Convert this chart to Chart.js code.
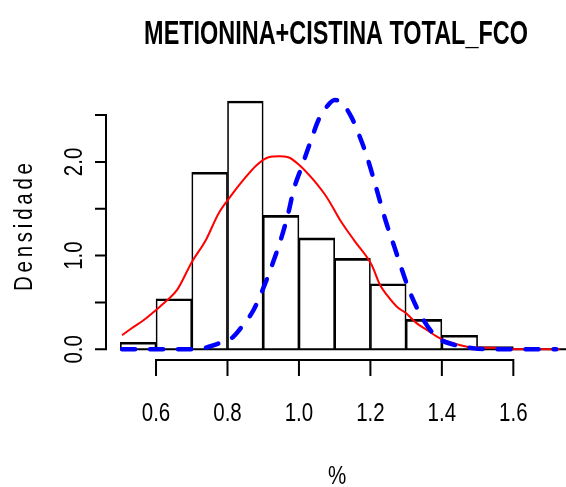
<!DOCTYPE html>
<html>
<head>
<meta charset="utf-8">
<script src="https://cdn.jsdelivr.net/npm/chart.js@4.4.1/dist/chart.umd.min.js"></script>
<style>
  html, body { margin: 0; padding: 0; background: #fff; }
  canvas { display: block; }
</style>
</head>
<body>
<canvas id="histFco" width="566" height="487"></canvas>
<script>
// histogram bins (midpoints) and densities, bin width 0.1
const binMids = [0.55, 0.65, 0.75, 0.85, 0.95, 1.05, 1.15, 1.25, 1.35, 1.45, 1.55];
const binDensity = [0.075, 0.54, 1.89, 2.65, 1.43, 1.19, 0.97, 0.70, 0.32, 0.15, 0.03];

// kernel density estimate (red)
const kdeX = [0.505, 0.53, 0.565, 0.60, 0.63, 0.66, 0.70, 0.74, 0.775, 0.81, 0.845, 0.88, 0.915, 0.945, 0.97,
  1.00, 1.04, 1.08, 1.115, 1.155, 1.2036, 1.227, 1.246, 1.274, 1.30, 1.33, 1.358, 1.395, 1.432, 1.47, 1.507,
  1.553, 1.58, 1.65, 1.73];
const kdeY = [0.15, 0.22, 0.31, 0.42, 0.52, 0.64, 0.93, 1.17, 1.45, 1.64, 1.81, 1.96, 2.05, 2.06, 2.05,
  1.97, 1.81, 1.61, 1.38, 1.16, 0.90, 0.686, 0.58, 0.455, 0.384, 0.277, 0.206, 0.117, 0.064, 0.028, 0.017,
  0.017, 0.0, 0.0, 0.0];

// reference curve (blue dashed)
const refX = [0.505, 0.70, 0.73, 0.75, 0.78, 0.815, 0.84, 0.873, 0.90, 0.92, 0.95, 0.97, 0.985, 1.008, 1.031,
  1.055, 1.078, 1.10, 1.12, 1.148, 1.167, 1.19, 1.218, 1.242, 1.27, 1.298, 1.316, 1.349, 1.386, 1.433, 1.49,
  1.55, 1.72];
const refY = [0, 0, 0.01, 0.03, 0.07, 0.13, 0.24, 0.42, 0.65, 0.85, 1.18, 1.45, 1.70, 1.95, 2.20,
  2.45, 2.59, 2.66, 2.63, 2.47, 2.30, 2.06, 1.70, 1.38, 1.06, 0.74, 0.56, 0.31, 0.13, 0.05, 0.01,
  0, 0];

const xTicks = [0.6, 0.8, 1.0, 1.2, 1.4, 1.6];
const yTicks = [0, 0.5, 1.0, 1.5, 2.0, 2.5];
const yTickLabels = ["0.0", "", "1.0", "", "2.0", ""];

const titleText = "METIONINA+CISTINA TOTAL_FCO";
const xTitle = "%";
const yTitle = "Densidade";

const FONT = '"Liberation Sans", Arial, sans-serif';

// text squeezed horizontally (along its own baseline), optional rotation
function narrowText(ctx, str, x, y, font, opts = {}) {
  const squeeze = opts.squeeze || 0.82;
  ctx.save();
  ctx.font = font;
  ctx.textAlign = "center";
  ctx.textBaseline = "alphabetic";
  ctx.translate(x, y);
  if (opts.rot) ctx.rotate(opts.rot);
  ctx.scale(squeeze, 1);
  if (opts.span) {
    // spread letters so the word covers `span` px
    ctx.letterSpacing = "0px";
    const w = ctx.measureText(str).width;
    const gap = (opts.span / squeeze - w) / (str.length - 1);
    ctx.letterSpacing = gap + "px";
    ctx.fillText(str, gap / 2, 0);
  } else {
    ctx.fillText(str, 0, 0);
  }
  ctx.restore();
}

// R-style axes, labels and title
const rAxes = {
  id: "rAxes",
  beforeDatasetsDraw(chart) {
    const { ctx, scales: { x, y }, chartArea } = chart;
    ctx.save();
    ctx.strokeStyle = "#000";
    ctx.lineWidth = 2;
    ctx.beginPath();
    ctx.moveTo(x.getPixelForValue(0.5), y.getPixelForValue(0));
    ctx.lineTo(chartArea.right, y.getPixelForValue(0));
    ctx.stroke();
    ctx.restore();
  },
  afterDraw(chart) {
    const { ctx, scales: { x, y }, chartArea } = chart;
    ctx.save();
    ctx.strokeStyle = "#000";
    ctx.fillStyle = "#000";
    ctx.lineWidth = 2;
    ctx.lineCap = "square";

    // x axis
    const ax = chartArea.bottom;
    ctx.beginPath();
    ctx.moveTo(x.getPixelForValue(xTicks[0]), ax);
    ctx.lineTo(x.getPixelForValue(xTicks[xTicks.length - 1]), ax);
    xTicks.forEach(t => {
      const px = x.getPixelForValue(t);
      ctx.moveTo(px, ax);
      ctx.lineTo(px, ax + 15);
    });
    ctx.stroke();

    xTicks.forEach(t => {
      narrowText(ctx, t.toFixed(1), x.getPixelForValue(t), 421, "25px " + FONT);
    });

    // y axis
    const ay = chartArea.left;
    ctx.beginPath();
    ctx.moveTo(ay, y.getPixelForValue(yTicks[0]));
    ctx.lineTo(ay, y.getPixelForValue(yTicks[yTicks.length - 1]));
    yTicks.forEach(t => {
      const py = y.getPixelForValue(t);
      ctx.moveTo(ay, py);
      ctx.lineTo(ay - 10, py);
    });
    ctx.stroke();

    yTicks.forEach((t, i) => {
      if (!yTickLabels[i]) return;
      narrowText(ctx, yTickLabels[i], 82, y.getPixelForValue(t), "25px " + FONT, { rot: -Math.PI / 2 });
    });

    // axis titles
    narrowText(ctx, xTitle, 337, 484, "25px " + FONT);
    narrowText(ctx, yTitle, 32, 227, "25px " + FONT, { rot: -Math.PI / 2, span: 128 });

    // main title
    narrowText(ctx, titleText, (chartArea.left + chartArea.right) / 2, 44, "bold 33px " + FONT, { squeeze: 0.71 });
    ctx.restore();
  }
};

new Chart(document.getElementById("histFco"), {
  type: "bar",
  data: {
    datasets: [
      {
        type: "line",
        label: "ref",
        data: refX.map((v, i) => ({ x: v, y: refY[i] })),
        borderColor: "#0000ff",
        borderWidth: 4.5,
        borderDash: [13, 15],
        borderCapStyle: "round",
        cubicInterpolationMode: "monotone",
        pointRadius: 0,
        fill: false,
        order: 0,
      },
      {
        type: "line",
        label: "kde",
        data: kdeX.map((v, i) => ({ x: v, y: kdeY[i] })),
        borderColor: "#ff0000",
        borderWidth: 2,
        cubicInterpolationMode: "monotone",
        pointRadius: 0,
        fill: false,
        order: 1,
      },
      {
        label: "hist",
        data: binMids.map((v, i) => ({ x: v, y: binDensity[i] })),
        backgroundColor: "rgba(255,255,255,0)",
        borderColor: "#000",
        borderWidth: { top: 2, left: 1, right: 1, bottom: 0 },
        borderSkipped: false,
        barPercentage: 1,
        categoryPercentage: 1,
        order: 2,
      },
    ],
  },
  options: {
    responsive: false,
    animation: false,
    devicePixelRatio: 1,
    layout: { padding: { left: 106, right: 0, top: 80, bottom: 127 } },
    scales: {
      x: { type: "linear", display: false, offset: false, min: 0.46, max: 1.7474 },
      y: { type: "linear", display: false, min: -0.114, max: 2.874 },
    },
    plugins: {
      legend: { display: false },
      tooltip: { enabled: false },
    },
  },
  plugins: [rAxes],
});
</script>
</body>
</html>
